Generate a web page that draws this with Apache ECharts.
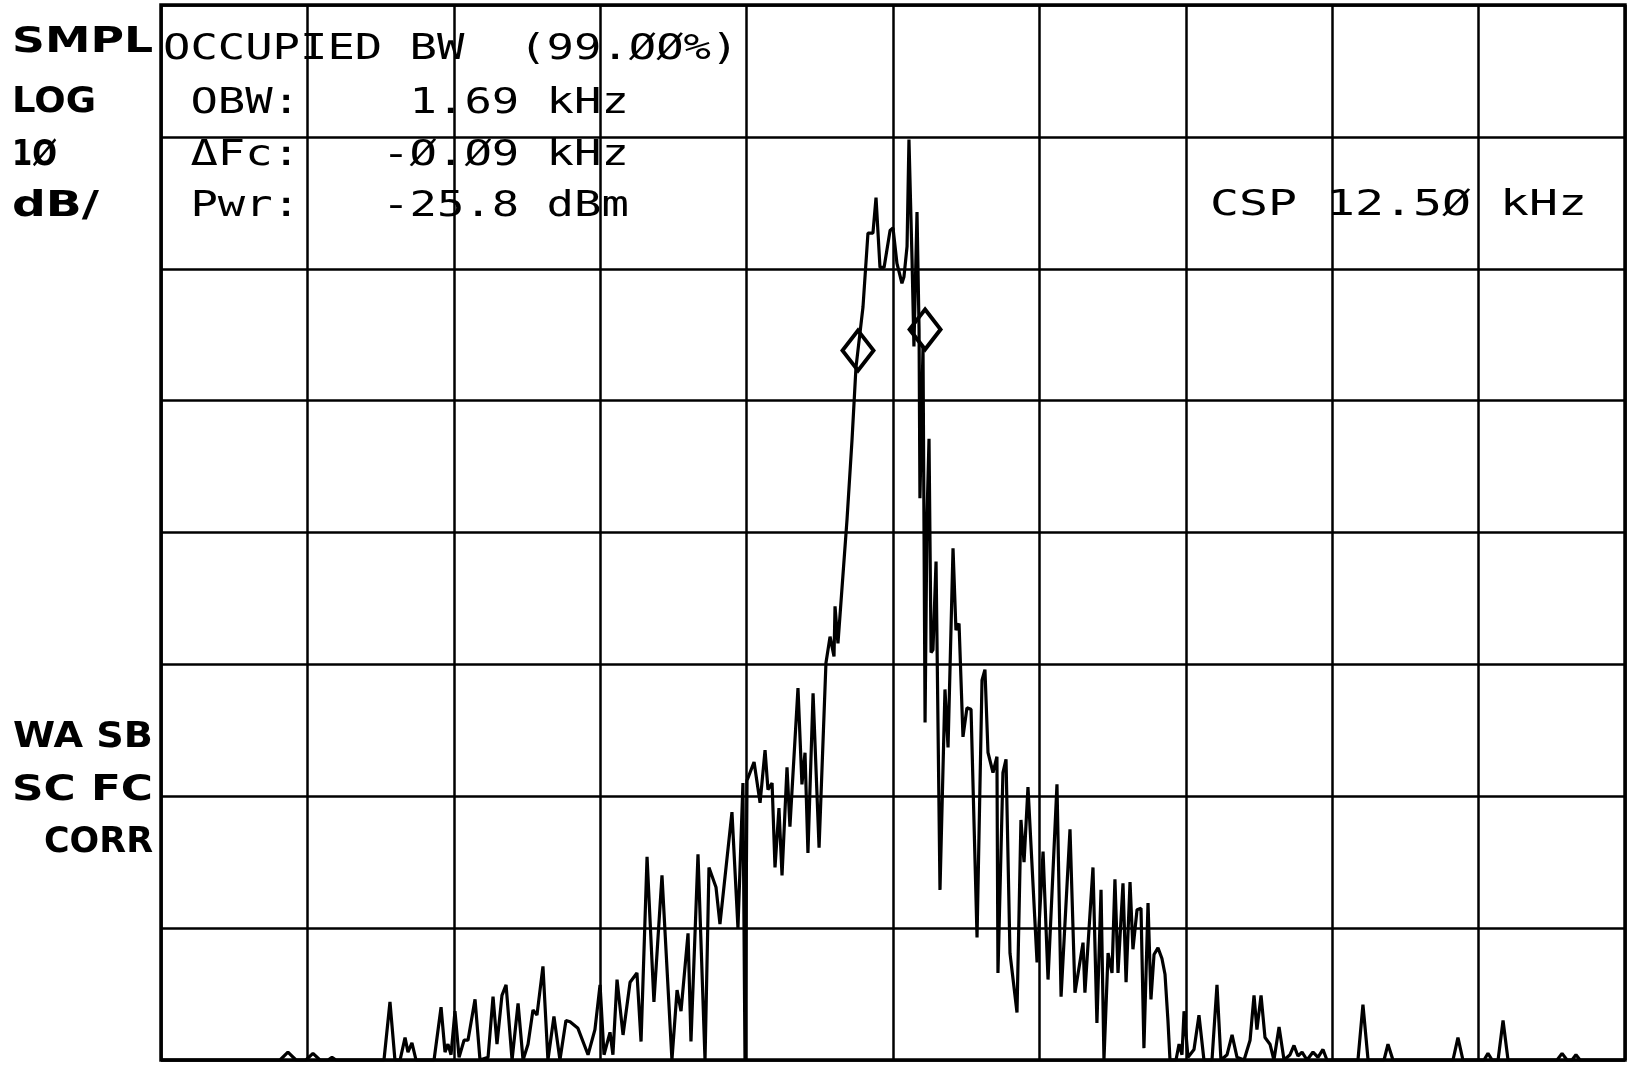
<!DOCTYPE html>
<html>
<head>
<meta charset="utf-8">
<script src="https://cdn.jsdelivr.net/npm/echarts@6/dist/echarts.min.js"></script>
<style>
  html, body { margin: 0; padding: 0; background: #fff; }
  #chart { width: 1630px; height: 1070px; }
</style>
</head>
<body>
<div id="chart"></div>
<script>
// Frequency position across the span (percent of span, 10 divisions)
const freqPct = [0, 8.13, 8.67, 9.22, 9.90, 10.38, 10.86, 11.41, 11.68, 11.95, 15.23, 15.64, 15.98, 16.33, 16.67, 16.87, 17.14, 17.42, 18.65, 19.13, 19.40, 19.60, 19.81, 20.08, 20.36, 20.70, 20.97, 21.45, 21.79, 22.34, 22.68, 22.95, 23.29, 23.57, 23.98, 24.39, 24.73, 25.07, 25.41, 25.68, 26.09, 26.43, 26.84, 27.25, 27.66, 27.94, 28.48, 29.17, 29.64, 29.99, 30.26, 30.67, 30.87, 31.15, 31.56, 32.04, 32.51, 32.79, 33.20, 33.67, 34.22, 34.90, 35.25, 35.52, 36.00, 36.20, 36.68, 37.16, 37.43, 37.91, 38.18, 39.00, 39.41, 39.75, 39.89, 40.03, 40.51, 40.92, 41.26, 41.46, 41.74, 41.94, 42.21, 42.42, 42.76, 42.96, 43.51, 43.78, 43.99, 44.19, 44.54, 44.95, 45.42, 45.70, 45.97, 46.04, 46.24, 46.86, 47.20, 47.47, 47.95, 48.29, 48.63, 48.84, 49.11, 49.39, 49.80, 50.00, 50.27, 50.61, 50.75, 50.96, 51.09, 51.30, 51.43, 51.64, 51.78, 51.84, 52.05, 52.19, 52.32, 52.46, 52.60, 52.73, 52.94, 53.07, 53.21, 53.55, 53.76, 54.10, 54.30, 54.51, 54.78, 55.05, 55.33, 55.74, 56.08, 56.28, 56.49, 56.83, 57.10, 57.17, 57.51, 57.72, 57.99, 58.47, 58.74, 58.95, 59.22, 59.84, 60.25, 60.59, 61.20, 61.48, 62.09, 62.43, 62.98, 63.11, 63.66, 63.93, 64.21, 64.41, 64.69, 64.96, 65.16, 65.37, 65.71, 65.92, 66.19, 66.39, 66.67, 66.94, 67.14, 67.42, 67.62, 67.83, 68.10, 68.37, 68.58, 68.78, 68.92, 69.33, 69.54, 69.74, 69.88, 70.15, 70.56, 70.90, 71.24, 71.79, 72.13, 72.40, 72.82, 73.16, 73.50, 73.98, 74.39, 74.66, 74.86, 75.14, 75.41, 75.75, 76.02, 76.37, 76.71, 77.12, 77.39, 77.66, 77.94, 78.28, 78.69, 79.03, 79.37, 79.64, 81.76, 82.10, 82.45, 83.54, 83.81, 84.15, 88.25, 88.59, 88.93, 90.37, 90.64, 90.92, 91.33, 91.67, 92.01, 95.36, 95.70, 96.04, 96.38, 96.65, 96.93, 100];

// Trace level, dB relative to the top graticule line (10 dB/div)
const levelDb = [-80, -80, -79.4, -80, -80, -79.5, -80, -80, -79.8, -80, -80, -75.6, -80, -80, -78.3, -79.4, -78.7, -80, -80, -76.0, -79.4, -78.8, -79.6, -76.3, -79.8, -78.5, -78.5, -75.4, -80, -79.8, -75.2, -78.8, -75.1, -74.3, -80, -75.7, -80, -78.8, -76.2, -76.6, -72.9, -80, -76.7, -80, -77.0, -77.1, -77.6, -79.6, -77.7, -74.3, -79.6, -77.9, -79.6, -73.9, -78.1, -74.1, -73.4, -78.6, -64.6, -75.6, -66.0, -80, -74.7, -76.3, -70.4, -78.6, -64.4, -80, -65.4, -66.9, -69.7, -61.2, -70.0, -59.0, -80, -58.8, -57.4, -60.5, -56.5, -59.5, -59.0, -65.4, -60.9, -66.0, -57.8, -62.3, -51.8, -59.1, -56.7, -64.3, -52.2, -63.9, -49.9, -47.9, -49.4, -45.6, -48.4, -39.0, -33.0, -27.5, -22.9, -17.3, -17.3, -14.6, -19.9, -19.9, -17.1, -16.9, -19.6, -21.1, -20.6, -18.3, -10.2, -19.3, -25.9, -15.7, -24.6, -37.4, -25.9, -54.4, -39.0, -32.9, -49.1, -48.9, -42.2, -42.3, -67.1, -51.9, -56.3, -41.2, -47.4, -46.9, -55.5, -53.3, -53.4, -70.7, -51.2, -50.4, -56.7, -58.2, -57.0, -73.4, -58.2, -57.2, -71.9, -76.4, -61.8, -65.0, -59.3, -72.6, -64.2, -73.9, -59.1, -75.2, -62.5, -74.9, -71.1, -74.9, -65.4, -77.2, -67.1, -80, -71.9, -73.4, -66.3, -73.4, -66.6, -74.1, -66.5, -71.6, -68.6, -68.5, -79.1, -68.1, -75.4, -72.0, -71.5, -72.3, -73.5, -77.0, -80, -80, -78.8, -79.6, -76.3, -79.8, -79.2, -76.6, -80, -80, -74.3, -80, -79.6, -78.1, -79.8, -80, -78.5, -75.1, -77.7, -75.1, -78.3, -78.8, -80, -77.5, -80, -79.6, -78.9, -79.7, -79.4, -80, -79.4, -79.8, -79.2, -80, -80, -75.8, -80, -80, -78.8, -80, -80, -78.3, -80, -80, -79.5, -80, -80, -77.0, -80, -80, -79.5, -80, -80, -79.6, -80, -80];

// Occupied-bandwidth edge markers (diamonds)
const markerFreq = [47.61, 52.19];
const markerLevel = [-26.2, -24.6];

// Annotation texts
const leftTopLabels = ['SMPL', 'LOG', '1Ø', 'dB/'];
const leftBottomLabels = ['WA SB', 'SC FC', 'CORR'];
const obwLines = ['OCCUPIED BW  (99.ØØ%)', ' OBW:    1.69 kHz', ' ΔFc:   -Ø.Ø9 kHz', ' Pwr:   -25.8 dBm'];
const cspLine = 'CSP 12.5Ø kHz';

const traceData = freqPct.map((f, i) => [f, levelDb[i]]);
const markerData = markerFreq.map((f, i) => [f, markerLevel[i]]);

const mctx = document.createElement('canvas').getContext('2d');
function fitText(text, font, x0, x1, cy, align) {
  mctx.font = font;
  const w = mctx.measureText(text).width;
  const sx = (x1 - x0) / w;
  return {
    type: 'text', x: align === 'right' ? x1 : x0, y: cy, scaleX: sx, z: 100,
    style: { text: text, font: font, fill: '#000', textAlign: align, textVerticalAlign: 'middle' }
  };
}

const boldFont = "bold 36px 'DejaVu Sans'";
const monoFont = "35px 'DejaVu Sans Mono'";
const graphics = [];
const ltExt = [[12, 153], [12, 96], [12, 57], [12, 99]];
const ltY = [43, 103, 156, 207];
leftTopLabels.forEach((t, i) => graphics.push(fitText(t, boldFont, ltExt[i][0], ltExt[i][1], ltY[i], 'left')));
const lbExt = [[13, 153], [12, 153], [44, 153]];
const lbY = [738, 791, 843];
leftBottomLabels.forEach((t, i) => graphics.push(fitText(t, boldFont, lbExt[i][0], lbExt[i][1], lbY[i], 'right')));
const obwY = [50, 104, 156, 207];
const pitch = 27.4;
obwLines.forEach((t, i) => graphics.push(fitText(t, monoFont, 163, 163 + t.length * pitch, obwY[i], 'left')));
graphics.push(fitText(cspLine, monoFont, 1210, 1210 + cspLine.length * 29, 206, 'left'));

const chart = echarts.init(document.getElementById('chart'), null, { renderer: 'canvas' });
chart.setOption({
  animation: false,
  backgroundColor: '#fff',
  grid: { left: 161, top: 5, width: 1464, height: 1055, show: true, borderColor: '#000', borderWidth: 3.5, backgroundColor: 'transparent' },
  xAxis: {
    type: 'value', min: 0, max: 100, interval: 10,
    axisLine: { show: false }, axisTick: { show: false }, axisLabel: { show: false },
    splitLine: { show: true, lineStyle: { color: '#000', width: 2.5 } }
  },
  yAxis: {
    type: 'value', min: -80, max: 0, interval: 10,
    axisLine: { show: false }, axisTick: { show: false }, axisLabel: { show: false },
    splitLine: { show: true, lineStyle: { color: '#000', width: 2.5 } }
  },
  series: [
    {
      type: 'line', data: traceData, showSymbol: false, symbol: 'none',
      lineStyle: { color: '#000', width: 3.2 }, z: 5
    },
    {
      type: 'scatter', data: markerData, symbol: 'diamond', symbolSize: [31, 40],
      itemStyle: { color: 'rgba(0,0,0,0)', borderColor: '#000', borderWidth: 4, opacity: 1 }, z: 6
    }
  ],
  graphic: graphics
});
</script>
</body>
</html>
